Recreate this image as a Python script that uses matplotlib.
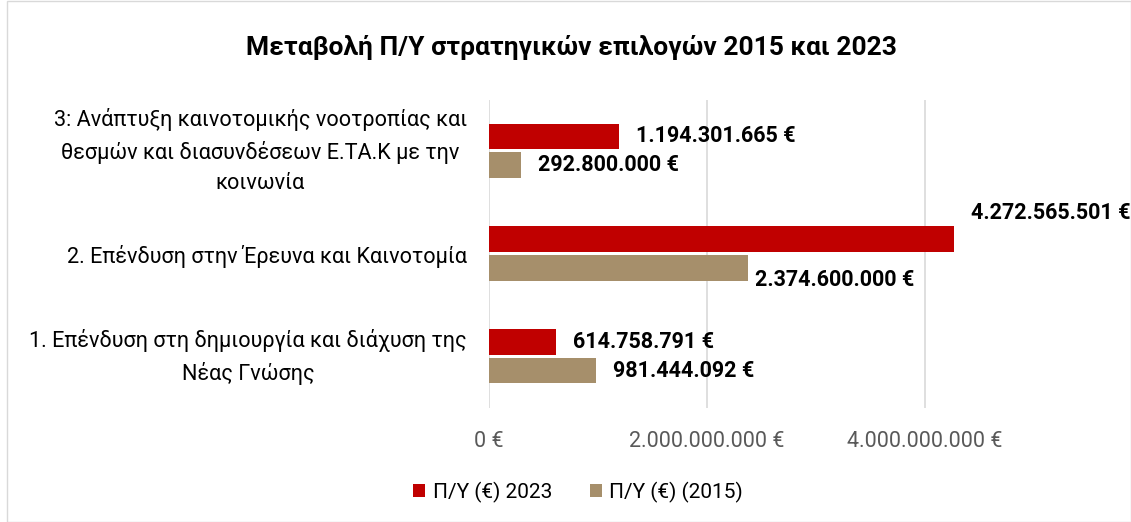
import matplotlib
matplotlib.use("Agg")
import matplotlib.pyplot as plt
from matplotlib.patches import Rectangle
from matplotlib.ticker import FuncFormatter
from matplotlib.transforms import ScaledTranslation
import numpy as np

plt.rcParams['font.family'] = ['Roboto', 'DejaVu Sans']

categories = [
    "1. Επένδυση στη δημιουργία και διάχυση της\nΝέας Γνώσης",
    "2. Επένδυση στην Έρευνα και Καινοτομία",
    "3: Ανάπτυξη καινοτομικής νοοτροπίας και\nθεσμών και διασυνδέσεων Ε.ΤΑ.Κ με την\nκοινωνία",
]
values_2023 = [614758791, 4272565501, 1194301665]
values_2015 = [981444092, 2374600000, 292800000]
series_names = ["Π/Υ (€) 2023", "Π/Υ (€) (2015)"]
xticks = [0, 2000000000, 4000000000]

RED = "#C00000"
TAN = "#A68F6B"

def euro(v):
    return f"{int(round(v)):,}".replace(",", ".") + " €"

fig = plt.figure(figsize=(11.31, 5.22), dpi=100)
fig.patches.append(Rectangle((0.006, 0.0), 0.994, 0.999, transform=fig.transFigure,
                             fill=False, edgecolor="#D9D9D9", linewidth=1.0))
ax = fig.add_axes([489/1131, 114.5/522, 621/1131, 308/522])

y = np.arange(len(categories))
h = 0.25
gap = 0.015
b23 = ax.barh(y + h/2 + gap, values_2023, height=h, color=RED, label=series_names[0], zorder=3)
b15 = ax.barh(y - h/2 - gap, values_2015, height=h, color=TAN, label=series_names[1], zorder=3)

ax.set_xlim(0, 5.7e9)
ax.set_ylim(-0.5, 2.5)
ax.set_xticks(xticks)
ax.xaxis.set_major_formatter(FuncFormatter(lambda v, p: euro(v)))
ax.tick_params(axis='x', length=0, labelsize=15.5, labelcolor="#595959", pad=17)
ax.set_yticks(y)
ax.set_yticklabels(categories)
ax.tick_params(axis='y', length=0, labelsize=15.6, labelcolor="black", pad=16)
for t in ax.get_yticklabels():
    t.set_multialignment('center')
    t.set_linespacing(1.55)
    if "\n" in t.get_text():
        t.set_transform(t.get_transform() + ScaledTranslation(0, 5/72, fig.dpi_scale_trans))
ax.grid(axis='x', color="#D9D9D9", linewidth=1.2, zorder=0)
for s in ax.spines.values():
    s.set_visible(False)

# value labels
offs23 = [(12, 0), (12, 19), (12, 0)]
offs15 = [(12, 0), (5, -9), (12, 0)]
for i, (bar, v) in enumerate(zip(b23, values_2023)):
    ax.annotate(euro(v), (bar.get_width(), bar.get_y() + bar.get_height()/2),
                xytext=offs23[i], textcoords='offset points', ha='left', va='center',
                fontsize=15.5, fontweight='bold', color='black')
for i, (bar, v) in enumerate(zip(b15, values_2015)):
    ax.annotate(euro(v), (bar.get_width(), bar.get_y() + bar.get_height()/2),
                xytext=offs15[i], textcoords='offset points', ha='left', va='center',
                fontsize=15.5, fontweight='bold', color='black')

fig.text(571/1131, 1 - 48/522, "Μεταβολή Π/Υ στρατηγικών επιλογών 2015 και 2023",
         ha='center', va='center', fontsize=19, fontweight='bold')

fig.legend(handles=[b23, b15], labels=series_names, loc='center',
           bbox_to_anchor=(578/1131, 1 - 492/522), ncol=2, frameon=False,
           fontsize=15, handlelength=0.6, handleheight=0.6, handletextpad=0.35,
           columnspacing=1.8)

fig.savefig("out.png", dpi=100)
